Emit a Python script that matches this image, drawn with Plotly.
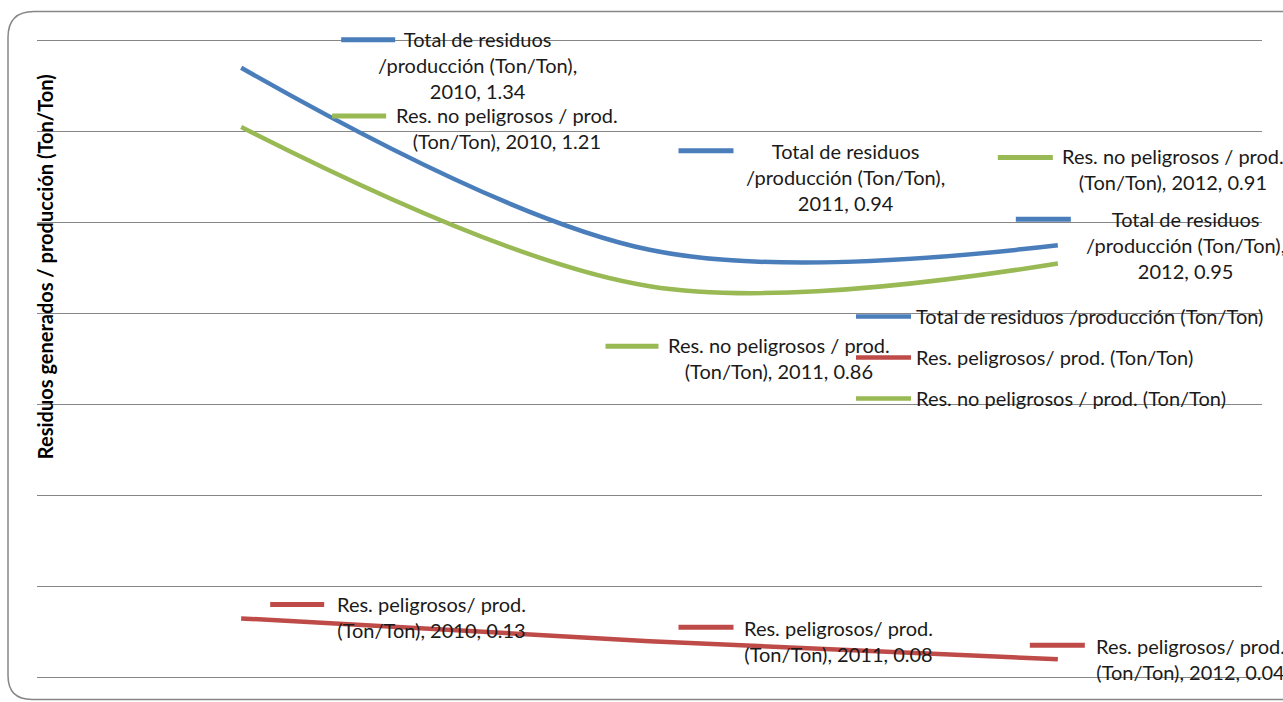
import plotly.graph_objects as go

years = ["2010", "2011", "2012"]
series_names = [
    "Total de residuos /producción (Ton/Ton)",
    "Res. peligrosos/ prod. (Ton/Ton)",
    "Res. no peligrosos / prod. (Ton/Ton)",
]
total_vals = [1.34, 0.94, 0.95]
peligrosos_vals = [0.13, 0.08, 0.04]
no_peligrosos_vals = [1.21, 0.86, 0.91]
colors = ["#4a7ebb", "#be4b48", "#98b954"]

# nombre de la serie partido en lineas como en las etiquetas de Excel
label_heads = [
    "Total de residuos<br>/producción (Ton/Ton),<br>",
    "Res. peligrosos/ prod.<br>(Ton/Ton), ",
    "Res. no peligrosos / prod.<br>(Ton/Ton), ",
]

# desplazamientos (px) de cada etiqueta: texto (dx, dy) y clave (x0, x1, dy)
text_off = [
    [(236, -3), (196, -73), (128, 0)],
    [(190, -1), (189, 0), (133, 0)],
    [(266, 1), (129, 72), (115, -94)],
]
key_off = [
    [(100, 154, -28), (29, 84, -99), (-42, 13, -26)],
    [(29, 83, -14), (29, 84, -14), (-28, 27, -14)],
    [(91, 145, -11), (-44, 9, 60), (-60, -5, -106)],
]

FONT = "Lato"
W, H = 1283, 702
Y0, Y1 = -0.012, 1.412          # rango algo mayor para que no se recorten las claves
unit = (678 - 40) / 1.4         # px por unidad del eje y
L, R = 37, 21
T = 40 - (Y1 - 1.4) * unit
B = H - (678 + (0 - Y0) * unit)
pw, ph = W - L - R, H - T - B


def px(x, y):
    return (x - L) / pw, (H - B - y) / ph


fig = go.Figure()
all_vals = [total_vals, peligrosos_vals, no_peligrosos_vals]
xs = list(range(len(years)))

for i, (name, vals) in enumerate(zip(series_names, all_vals)):
    fig.add_trace(go.Scatter(
        x=xs, y=vals, name=name, mode="lines",
        line=dict(color=colors[i], width=4.5, shape="spline", smoothing=1.0),
        legendgroup=str(i),
        hoverinfo="skip",
    ))
    for j, v in enumerate(vals):
        dx, dy = text_off[i][j]
        fig.add_annotation(
            x=xs[j], y=v, xref="x", yref="y",
            text=f"{label_heads[i]}{years[j]}, {v:.2f}",
            showarrow=False, align="center",
            xanchor="center", yanchor="middle",
            xshift=dx, yshift=-dy,
            font=dict(family=FONT, size=20, color="#1a1a1a"),
        )
        k0, k1, ky = key_off[i][j]
        fig.add_shape(
            type="line", xref="x", yref="y",
            xsizemode="pixel", ysizemode="pixel",
            xanchor=xs[j], yanchor=v,
            x0=k0, x1=k1, y0=-ky, y1=-ky,
            line=dict(color=colors[i], width=5),
        )

# marco redondeado del grafico
p = [px(1300, 11), px(34, 11), px(8, 11), px(8, 37), px(8, 676),
     px(8, 700), px(32, 700), px(1300, 700)]
path = (f"M{p[0][0]},{p[0][1]} L{p[1][0]},{p[1][1]} Q{p[2][0]},{p[2][1]} {p[3][0]},{p[3][1]} "
        f"L{p[4][0]},{p[4][1]} Q{p[5][0]},{p[5][1]} {p[6][0]},{p[6][1]} L{p[7][0]},{p[7][1]}")
fig.add_shape(type="path", path=path, xref="paper", yref="paper",
              line=dict(color="#868686", width=1.5), layer="below")

ty = px(45, 267)
fig.add_annotation(
    x=px(45, 0)[0], y=ty[1], xref="paper", yref="paper",
    text="<b>Residuos generados / producción (Ton/Ton)</b>",
    textangle=-90, showarrow=False, xanchor="center", yanchor="middle",
    font=dict(family=FONT, size=20, color="#000000"),
)

lx, ly = px(851, 297)
fig.update_layout(
    width=W, height=H,
    margin=dict(l=L, r=R, t=T, b=B),
    paper_bgcolor="white", plot_bgcolor="white",
    showlegend=True,
    legend=dict(
        x=lx, y=ly, xanchor="left", yanchor="top",
        bgcolor="rgba(0,0,0,0)", font=dict(family=FONT, size=20, color="#1a1a1a"),
        tracegroupgap=12, itemwidth=55,
    ),
    xaxis=dict(range=[-0.5, 2.5], showgrid=False, zeroline=False,
               showticklabels=False, ticks="", tickvals=xs, ticktext=years),
    yaxis=dict(range=[Y0, Y1], tick0=0, dtick=0.2, showgrid=True, gridcolor="#868686",
               gridwidth=1, zeroline=True, zerolinecolor="#868686", zerolinewidth=1,
               showticklabels=False, ticks=""),
)

fig.write_html("out.html", config={"displayModeBar": False},
               post_script="document.body.style.margin='0';")
